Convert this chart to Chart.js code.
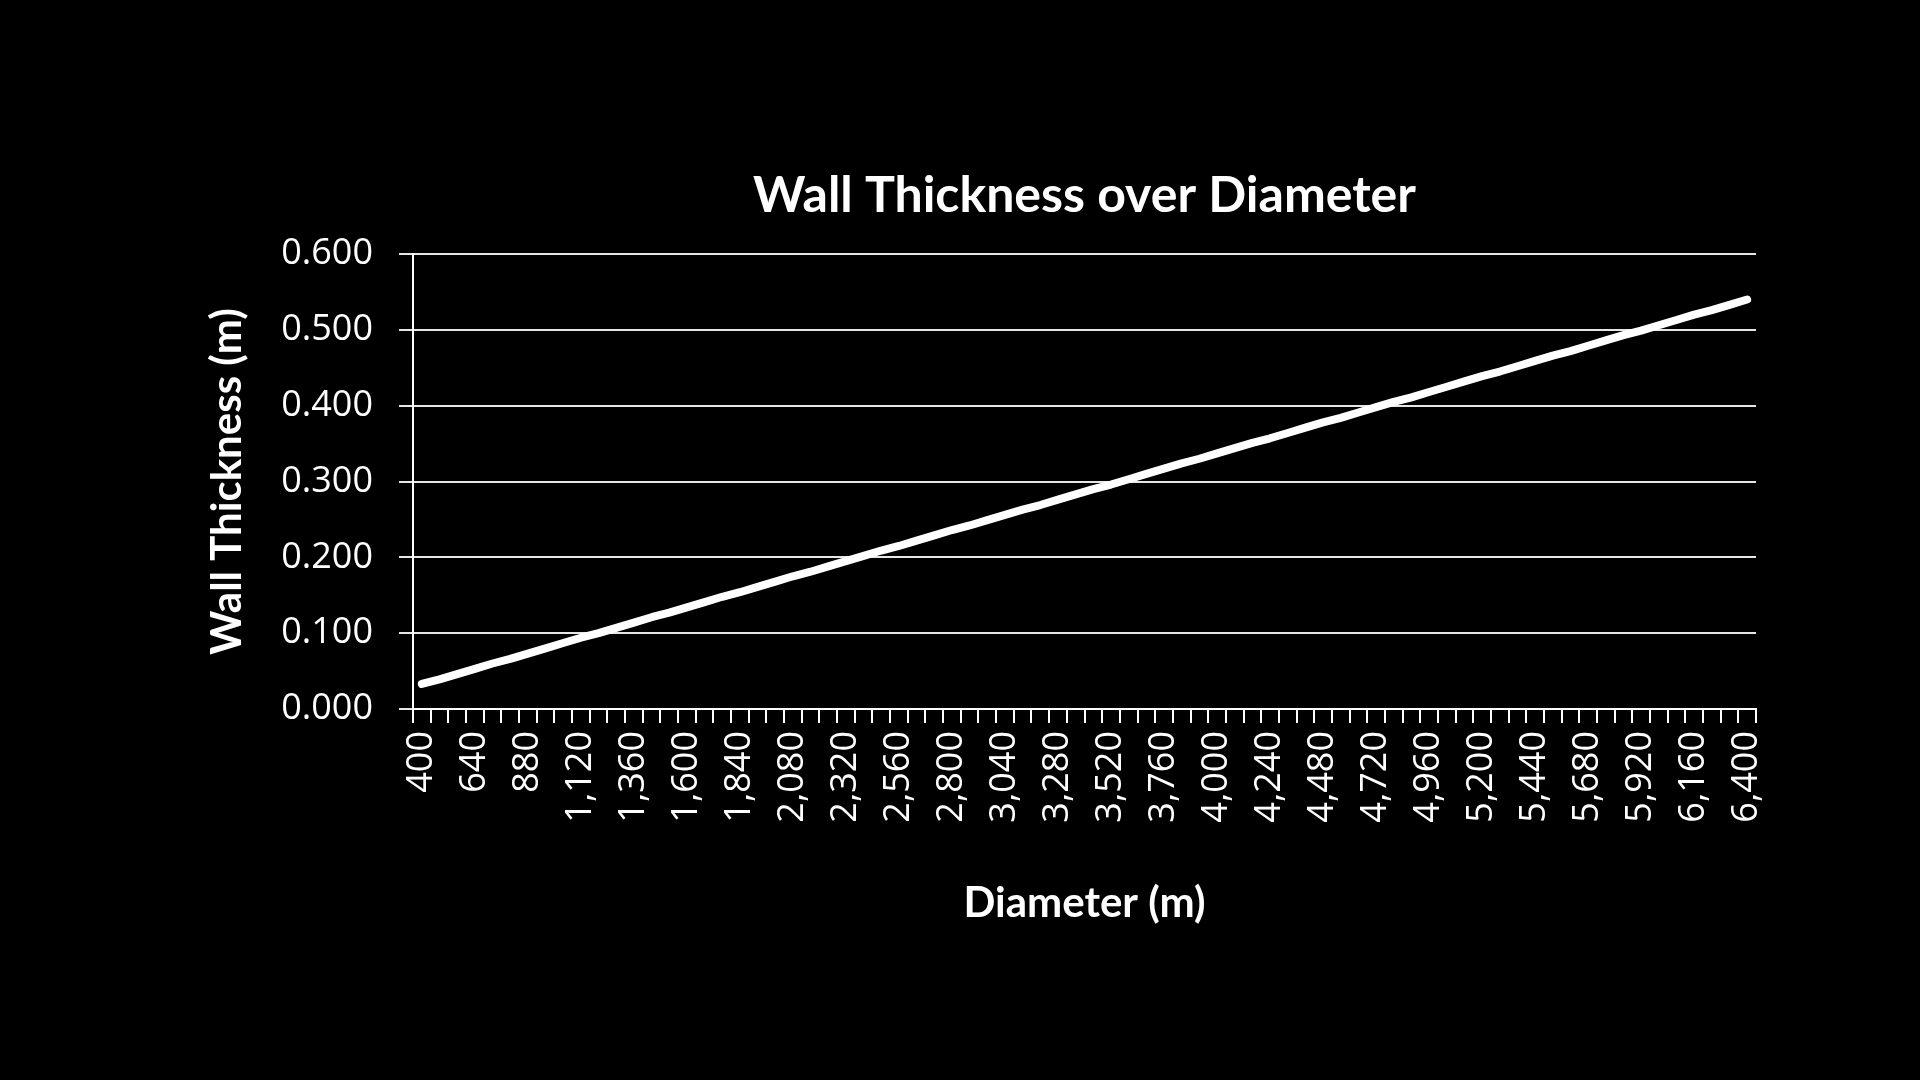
<!DOCTYPE html>
<html>
<head>
<meta charset="utf-8">
<title>Wall Thickness over Diameter</title>
<script src="https://cdn.jsdelivr.net/npm/chart.js@4.4.0/dist/chart.umd.min.js"></script>
<style>
  html, body { margin: 0; padding: 0; background: #000; }
  #wrap { width: 1920px; height: 1080px; }
</style>
</head>
<body>
<div id="wrap"><canvas id="myChart"></canvas></div>
<script>
  // diameter (m), one point every 80
  const diameters = [
    400, 480, 560, 640, 720, 800, 880, 960, 1040, 1120,
    1200, 1280, 1360, 1440, 1520, 1600, 1680, 1760, 1840, 1920,
    2000, 2080, 2160, 2240, 2320, 2400, 2480, 2560, 2640, 2720,
    2800, 2880, 2960, 3040, 3120, 3200, 3280, 3360, 3440, 3520,
    3600, 3680, 3760, 3840, 3920, 4000, 4080, 4160, 4240, 4320,
    4400, 4480, 4560, 4640, 4720, 4800, 4880, 4960, 5040, 5120,
    5200, 5280, 5360, 5440, 5520, 5600, 5680, 5760, 5840, 5920,
    6000, 6080, 6160, 6240, 6320, 6400
  ];
  // wall thickness (m)
  const wallThickness = [
    0.033, 0.039, 0.046, 0.053, 0.060, 0.066, 0.073, 0.080, 0.087, 0.094,
    0.100, 0.107, 0.114, 0.121, 0.127, 0.134, 0.141, 0.148, 0.154, 0.161,
    0.168, 0.175, 0.181, 0.188, 0.195, 0.202, 0.209, 0.215, 0.222, 0.229,
    0.236, 0.242, 0.249, 0.256, 0.263, 0.269, 0.276, 0.283, 0.290, 0.296,
    0.303, 0.310, 0.317, 0.324, 0.330, 0.337, 0.344, 0.351, 0.357, 0.364,
    0.371, 0.378, 0.384, 0.391, 0.398, 0.405, 0.411, 0.418, 0.425, 0.432,
    0.439, 0.445, 0.452, 0.459, 0.466, 0.472, 0.479, 0.486, 0.493, 0.499,
    0.506, 0.513, 0.520, 0.526, 0.533, 0.540
  ];
  const yTicks = [0, 0.1, 0.2, 0.3, 0.4, 0.5, 0.6];
  const labelEvery = 3;

  const tickFont = { family: 'Open Sans', size: 36 };
  const titleFont = { family: 'Lato', size: 42, weight: 'bold' };

  const config = {
    type: 'line',
    data: {
      labels: diameters,
      datasets: [{
        label: 'Wall Thickness',
        data: wallThickness,
        borderColor: '#ffffff',
        backgroundColor: '#ffffff',
        borderWidth: 8,
        borderCapStyle: 'round',
        borderJoinStyle: 'round',
        pointRadius: 0,
        tension: 0,
        fill: false
      }]
    },
    options: {
      animation: false,
      responsive: true,
      maintainAspectRatio: false,
      devicePixelRatio: 1,
      layout: { padding: { left: 190, right: 164, top: 0, bottom: 0 } },
      plugins: {
        legend: { display: false },
        tooltip: { enabled: false },
        title: {
          display: true,
          fullSize: false,
          text: 'Wall Thickness over Diameter',
          color: '#ffffff',
          font: { family: 'Lato', size: 50, weight: 'bold' },
          padding: { top: 166, bottom: 28 }
        }
      },
      scales: {
        x: {
          type: 'category',
          offset: true,
          grid: {
            display: true,
            drawOnChartArea: false,
            offset: true,
            color: '#ffffff',
            lineWidth: 2,
            tickLength: 14
          },
          border: { color: '#ffffff', width: 2 },
          ticks: {
            autoSkip: false,
            minRotation: 90,
            maxRotation: 90,
            padding: 8,
            color: '#ffffff',
            font: tickFont,
            callback(value, index) {
              return index % labelEvery === 0 ? diameters[index].toLocaleString('en-US') : '';
            }
          },
          title: {
            display: true,
            text: 'Diameter (m)',
            color: '#ffffff',
            font: titleFont,
            padding: { top: 0, bottom: 151 }
          },
          afterFit(scale) { scale.height = 371; }
        },
        y: {
          min: yTicks[0],
          max: yTicks[yTicks.length - 1],
          grid: { color: '#e6e6e6', lineWidth: 2, tickLength: 14 },
          border: { color: '#ffffff', width: 2 },
          afterBuildTicks(scale) { scale.ticks = yTicks.map(v => ({ value: v })); },
          ticks: {
            padding: 26,
            color: '#ffffff',
            font: tickFont,
            callback: v => v.toFixed(3)
          },
          title: {
            display: true,
            text: 'Wall Thickness (m)',
            color: '#ffffff',
            font: titleFont,
            padding: { top: 12, bottom: 0 }
          },
          afterFit(scale) { scale.width = 223; }
        }
      }
    }
  };

  const myChart = new Chart(document.getElementById('myChart'), config);
</script>
</body>
</html>
